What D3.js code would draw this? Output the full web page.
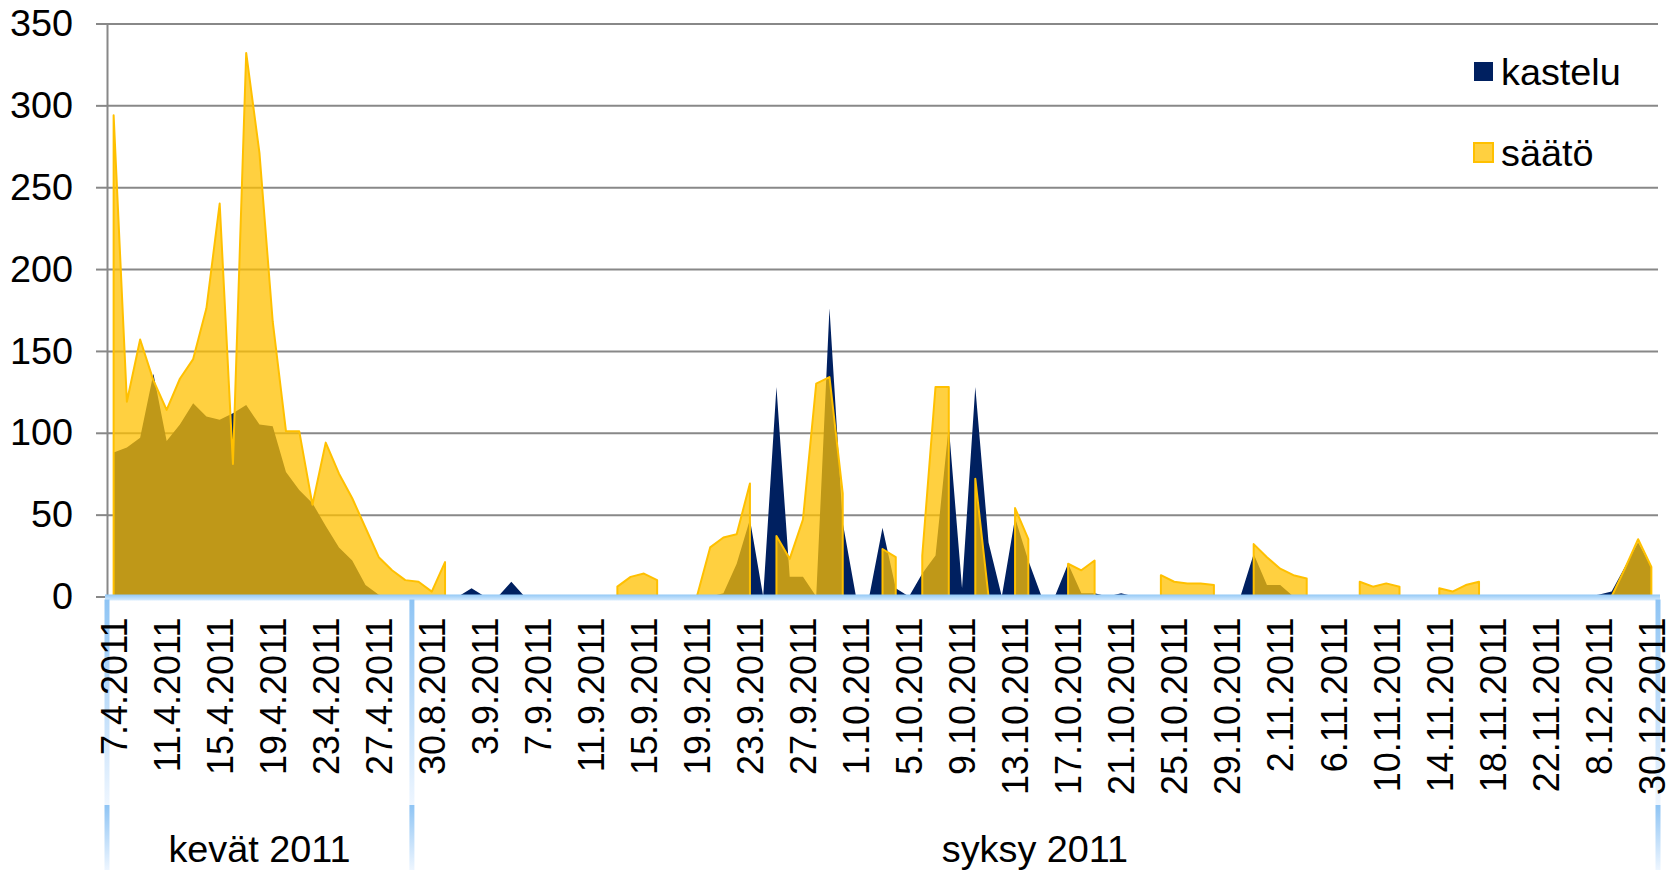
<!DOCTYPE html>
<html><head><meta charset="utf-8">
<script src="https://cdn.jsdelivr.net/npm/d3@7"></script>
<style>body{margin:0;background:#fff}svg{display:block}text{font-family:"Liberation Sans",Arial,sans-serif;fill:#000}</style>
</head><body><svg id="c" width="1676" height="870"></svg>
<script>
const categories = [
"7.4.2011","8.4.2011","9.4.2011","10.4.2011","11.4.2011","12.4.2011","13.4.2011","14.4.2011","15.4.2011","16.4.2011",
"17.4.2011","18.4.2011","19.4.2011","20.4.2011","21.4.2011","22.4.2011","23.4.2011","24.4.2011","25.4.2011","26.4.2011",
"27.4.2011","28.4.2011","29.4.2011",
"29.8.2011","30.8.2011","31.8.2011",
"1.9.2011","2.9.2011","3.9.2011","4.9.2011","5.9.2011","6.9.2011","7.9.2011","8.9.2011","9.9.2011","10.9.2011",
"11.9.2011","12.9.2011","13.9.2011","14.9.2011","15.9.2011","16.9.2011","17.9.2011","18.9.2011","19.9.2011","20.9.2011",
"21.9.2011","22.9.2011","23.9.2011","24.9.2011","25.9.2011","26.9.2011","27.9.2011","28.9.2011","29.9.2011","30.9.2011",
"1.10.2011","2.10.2011","3.10.2011","4.10.2011","5.10.2011","6.10.2011","7.10.2011","8.10.2011","9.10.2011","10.10.2011",
"11.10.2011","12.10.2011","13.10.2011","14.10.2011","15.10.2011","16.10.2011","17.10.2011","18.10.2011","19.10.2011","20.10.2011",
"21.10.2011","22.10.2011","23.10.2011","24.10.2011","25.10.2011","26.10.2011","27.10.2011","28.10.2011","29.10.2011","30.10.2011","31.10.2011",
"1.11.2011","2.11.2011","3.11.2011","4.11.2011","5.11.2011","6.11.2011","7.11.2011","8.11.2011","9.11.2011","10.11.2011",
"11.11.2011","12.11.2011","13.11.2011","14.11.2011","15.11.2011","16.11.2011","17.11.2011","18.11.2011","19.11.2011","20.11.2011",
"21.11.2011","22.11.2011","23.11.2011","24.11.2011","25.11.2011",
"8.12.2011","9.12.2011","28.12.2011","29.12.2011","30.12.2011"
];
const kastelu = [
88,91,97,136,95,105,118,110,108,112,
117,105,104,76,65,57,43,30,22,7,
1,0,0,0,0,0,0,5,0,0,
9,0,0,0,0,0,0,0,0,0,
0,0,0,0,0,0,2,20,47,0,
128,12,12,0,176,45,0,0,42,5,
0,14,25,104,5,128,33,0,48,22,
0,0,20,2,2,0,2,0,0,0,
0,0,0,0,0,0,26,7,7,0,
0,0,0,0,0,0,0,0,0,0,
0,0,0,0,0,0,0,0,0,0,
0,0,1,3,18,33,18
];
const saato = [
294,119,157,132,114,133,145,176,240,81,
332,271,168,101,101,56,94,75,60,42,
24,16,10,9,3,21,null,null,null,null,
null,null,null,null,null,null,null,null,6,12,
14,10,null,null,0,30,36,38,69,null,
37,23,47,130,134,63,null,null,29,24,
null,25,128,128,null,72,0,null,54,35,
null,null,20,16,22,null,null,null,null,13,
9,8,8,7,null,null,32,24,17,13,
11,null,null,null,9,6,8,6,null,null,
5,3,7,9,null,null,null,null,null,null,
null,null,null,0,17,35,18
];
const yTicks = [0,50,100,150,200,250,300,350];
const groupLabels = ["kevät 2011","syksy 2011"];
const groupStarts = [0,23];
const groupEnds = [23,117];
const seriesNames = ["kastelu","säätö"];
const seriesColors = ["#002060","#ffc000"];

const pL=107,pR=1658,pT=23.5,pB=596.5;
const FS=36, SX=1.05;
const svg=d3.select("#c");
const n=categories.length;
const x=d3.scalePoint().domain(d3.range(n)).range([pL,pR]).padding(0.5);
const step=x.step();
const y=d3.scaleLinear().domain([0,350]).range([pB,pT]);
const FONT='"Liberation Sans",Arial,sans-serif';

const defs=svg.append("defs");
function grad(id,c1,c2){
  const g=defs.append("linearGradient").attr("id",id).attr("x1",0).attr("y1",0).attr("x2",0).attr("y2",1);
  g.append("stop").attr("offset","0%").attr("stop-color",c1);
  g.append("stop").attr("offset","100%").attr("stop-color",c2);
}
grad("gband","#92c8f6","#d8ecfe");
grad("gsep","#8ec4f4","#eef6ff");

// gridlines
svg.append("g").attr("transform",`translate(${pL},0)`)
  .call(d3.axisLeft(y).tickValues(yTicks.filter(d=>d>0)).tickSize(-(pR-pL)).tickFormat(""))
  .call(g=>g.select(".domain").remove())
  .call(g=>g.selectAll("line").attr("stroke","#888888").attr("stroke-width",2));

// areas
const areaK=d3.area().x((d,i)=>x(i)).y0(pB).y1(d=>y(d));
svg.append("path").datum(kastelu).attr("d",areaK).attr("fill",seriesColors[0]);
const areaS=d3.area().defined(d=>d!==null).x((d,i)=>x(i)).y0(pB).y1(d=>y(d));
svg.append("path").datum(saato).attr("d",areaS)
  .attr("fill",seriesColors[1]).attr("fill-opacity",0.75)
  .attr("stroke",seriesColors[1]).attr("stroke-width",2).attr("stroke-linejoin","round");

// y axis
svg.append("g").attr("transform",`translate(${pL},0)`)
  .call(d3.axisLeft(y).tickValues(yTicks).tickSize(11))
  .call(g=>g.select(".domain").attr("stroke","#888888").attr("stroke-width",2))
  .call(g=>g.selectAll(".tick line").attr("stroke","#888888").attr("stroke-width",2))
  .call(g=>g.selectAll("text").attr("x",0).attr("dy",null).attr("transform",`translate(${73-pL},0) scale(${SX},1)`)
     .attr("font-size",FS).attr("font-family",FONT).attr("fill","#000").attr("dominant-baseline","central"));

// x axis band and separators
svg.append("rect").attr("x",pL-2).attr("y",pB-2).attr("width",pR-pL+4).attr("height",6).attr("fill","url(#gband)");
const sepX=[...groupStarts.map(s=>pL+s*step), pR];
sepX.forEach(sx=>{
  svg.append("rect").attr("x",sx-2.5).attr("y",pB+3).attr("width",5).attr("height",805-pB-3).attr("fill","url(#gsep)");
  svg.append("rect").attr("x",sx-2.5).attr("y",805).attr("width",5).attr("height",65).attr("fill","url(#gsep)");
});

// x tick labels
svg.append("g").attr("transform",`translate(0,${pB})`)
  .call(d3.axisBottom(x).tickValues(d3.range(n).filter(i=>i%4===0)).tickFormat(i=>categories[i]).tickSize(0))
  .call(g=>g.select(".domain").remove())
  .call(g=>g.selectAll("text").attr("x",0).attr("y",0).attr("dy",null)
     .attr("transform",`translate(0,21) scale(${SX},1) rotate(-90)`)
     .attr("text-anchor","end").attr("dominant-baseline","central")
     .attr("font-size",FS).attr("font-family",FONT).attr("fill","#000"));

// group labels
svg.append("g").selectAll("text").data(groupLabels).join("text")
  .attr("transform",(d,i)=>`translate(${pL+(groupStarts[i]+groupEnds[i])/2*step},862) scale(${SX},1)`)
  .attr("text-anchor","middle").attr("font-size",FS).text(d=>d);

// legend
const lg=svg.append("g");
const legY=[72,153];
seriesNames.forEach((s,i)=>{
  lg.append("rect").attr("x",1474).attr("y",legY[i]-10).attr("width",19).attr("height",19)
    .attr("fill",i===0?seriesColors[0]:"rgba(255,192,0,0.75)")
    .attr("stroke",i===0?seriesColors[0]:seriesColors[1]).attr("stroke-width",i===0?0:2);
  lg.append("text").attr("transform",`translate(1501,${legY[i]+12.5}) scale(${SX},1)`).attr("font-size",FS).text(s);
});
</script></body></html>
